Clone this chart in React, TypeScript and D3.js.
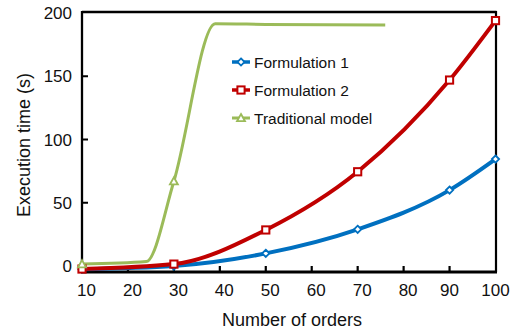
import React from "react";
import * as d3 from "d3";

const xTicks = [10, 20, 30, 40, 50, 60, 70, 80, 90, 100];
const yTicks = [0, 50, 100, 150, 200];

const f1X = [10, 30, 50, 70, 90, 100];
const f1Y = [-2.5, 0, 10, 29, 60, 84.5];

const f2X = [10, 30, 50, 70, 90, 100];
const f2Y = [-2.4, 1.5, 28.5, 74.5, 147, 194];

const tmX = [10, 24, 30, 39, 50, 76];
const tmY = [1.5, 3.5, 67, 191.5, 191, 190.5];
const tmMarked = [true, false, true, false, false, false];

const seriesNames = ["Formulation 1", "Formulation 2", "Traditional model"];
const seriesColors = ["#0070C0", "#C00000", "#9BBB59"];

const W = 518;
const H = 331;
const FONT = "'Liberation Sans', Arial, sans-serif";

function Marker({ kind, x, y, color }: { kind: string; x: number; y: number; color: string }) {
  if (kind === "diamond") {
    const s = 3.6;
    return (
      <path
        d={`M${x},${y - s}L${x + s},${y}L${x},${y + s}L${x - s},${y}Z`}
        fill="white"
        stroke={color}
        strokeWidth={1.8}
      />
    );
  }
  if (kind === "square") {
    const s = 3.6;
    return <rect x={x - s} y={y - s} width={2 * s} height={2 * s} fill="white" stroke={color} strokeWidth={2} />;
  }
  const s = 4;
  return (
    <path
      d={`M${x},${y - s}L${x + s},${y + s * 0.8}L${x - s},${y + s * 0.8}Z`}
      fill="white"
      stroke={color}
      strokeWidth={1.8}
    />
  );
}

export default function App() {
  const left = 82;
  const right = 495.5;
  const top = 13;
  const bottom = 272;
  const x = d3.scaleLinear().domain([10, 100]).range([left, right]);
  const y = d3.scaleLinear().domain([-4.74, 200]).range([bottom, top]);

  const line = d3
    .line<[number, number]>()
    .x((d) => x(d[0]))
    .y((d) => y(d[1]))
    .curve(d3.curveMonotoneX);

  const f1 = f1X.map((v, i) => [v, f1Y[i]] as [number, number]);
  const f2 = f2X.map((v, i) => [v, f2Y[i]] as [number, number]);
  const tm = tmX.map((v, i) => [v, tmY[i]] as [number, number]);

  const legendY = [62, 90, 118];
  const legendKinds = ["diamond", "square", "triangle"];

  return (
    <svg
      width={W}
      height={H}
      style={{ position: "absolute", left: 0, top: 0, fontFamily: FONT }}
    >
      <rect x={0} y={0} width={W} height={H} fill="white" />
      {/* frame */}
      <line x1={left} x2={right + 1} y1={top - 1} y2={top - 1} stroke="black" strokeWidth={2.3} />
      <line x1={right + 0.5} x2={right + 0.5} y1={top - 2} y2={bottom} stroke="black" strokeWidth={2.2} />
      <line x1={left} x2={left} y1={top - 2} y2={bottom + 1} stroke="black" strokeWidth={2.3} />
      <line x1={left - 1} x2={right + 1.5} y1={bottom} y2={bottom} stroke="black" strokeWidth={3} />

      {/* x ticks */}
      {xTicks.map((t) => (
        <g key={"xt" + t}>
          {t !== 10 && t !== 100 && (
            <line x1={x(t)} x2={x(t)} y1={bottom} y2={bottom - 6} stroke="black" strokeWidth={2.2} />
          )}
          <text x={x(t) + (t >= 90 ? 0 : 4.5)} y={bottom + 24} textAnchor="middle" fontSize={17} fill="#111">
            {t}
          </text>
        </g>
      ))}
      {/* y ticks */}
      {yTicks.map((t) => (
        <g key={"yt" + t}>
          {t !== 200 && t !== 0 && (
            <line x1={left} x2={left + 6} y1={y(t)} y2={y(t)} stroke="black" strokeWidth={2} />
          )}
          <text x={left - 10} y={y(t) + 6} textAnchor="end" fontSize={17} fill="#111">
            {t}
          </text>
        </g>
      ))}

      {/* axis titles */}
      <text x={292} y={326} textAnchor="middle" fontSize={18} fill="#111">
        Number of orders
      </text>
      <text
        transform={`translate(30,145) rotate(-90)`}
        textAnchor="middle"
        fontSize={18}
        fill="#111"
      >
        Execution time (s)
      </text>

      {/* series */}
      <path d={line(f1) || ""} fill="none" stroke={seriesColors[0]} strokeWidth={4} />
      <path d={line(f2) || ""} fill="none" stroke={seriesColors[1]} strokeWidth={4} />
      <path d={line(tm) || ""} fill="none" stroke={seriesColors[2]} strokeWidth={3} />

      {f1.map((d, i) => (
        <Marker key={"m1" + i} kind="diamond" x={x(d[0])} y={y(d[1])} color={seriesColors[0]} />
      ))}
      {f2.map((d, i) => (
        <Marker key={"m2" + i} kind="square" x={x(d[0])} y={y(d[1])} color={seriesColors[1]} />
      ))}
      {tm.map((d, i) =>
        tmMarked[i] ? (
          <Marker key={"m3" + i} kind="triangle" x={x(d[0])} y={y(d[1])} color={seriesColors[2]} />
        ) : null
      )}

      {/* legend */}
      {seriesNames.map((name, i) => (
        <g key={"lg" + i}>
          <line
            x1={232}
            x2={250}
            y1={legendY[i]}
            y2={legendY[i]}
            stroke={seriesColors[i]}
            strokeWidth={i === 2 ? 3 : 3.5}
          />
          <Marker kind={legendKinds[i]} x={241} y={legendY[i]} color={seriesColors[i]} />
          <text x={254} y={legendY[i] + 5.5} fontSize={15.5} fill="#111">
            {name}
          </text>
        </g>
      ))}
    </svg>
  );
}
